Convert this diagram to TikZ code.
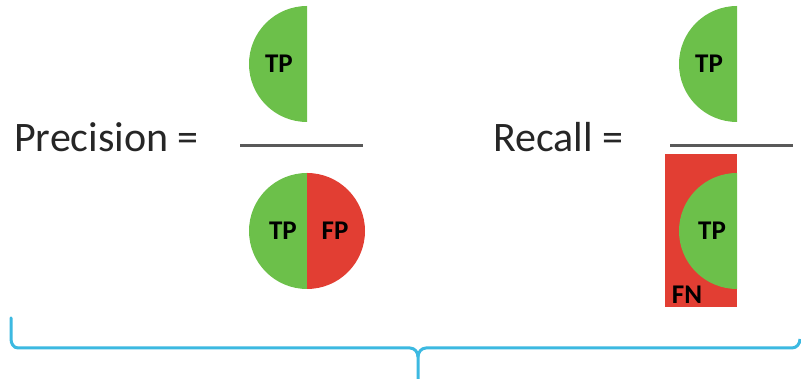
\documentclass[tikz,border=0pt]{standalone}
\usepackage{fontspec}
\setmainfont{Carlito}
\definecolor{tpgreen}{RGB}{108,192,74}
\definecolor{fpred}{RGB}{226,62,51}
\definecolor{bracecol}{RGB}{60,185,225}
\definecolor{bargray}{RGB}{89,89,89}
\tikzset{
  word/.style = {text = black!85, font = \fontsize{42}{50}\selectfont, inner sep = 0pt},
  lbl/.style = {font = \fontsize{27}{32}\selectfont\bfseries, inner sep = 0pt}
}
\begin{document}
\begin{tikzpicture}[x = 1pt, y = 1pt]
\useasboundingbox (0,0) rectangle (801,379);
\node[word, anchor = base west] (prec) at (14,227) {Precision =};
\node[word, anchor = base west] (rec) at (493,227) {Recall =};
% precision fraction
\fill[tpgreen] (307,373) arc[start angle = 90, end angle = 270, radius = 58] -- cycle;
\draw[bargray, line width = 3] (240,233) -- (363,233);
\fill[tpgreen] (307,206) arc[start angle = 90, end angle = 270, radius = 58] -- cycle;
\fill[fpred] (307,206) arc[start angle = 90, end angle = -90, radius = 58] -- cycle;
\node[lbl] (tp1) at (279,315) {TP};
\node[lbl] (tp2) at (283,148) {TP};
\node[lbl] (fp) at (335,148) {FP};
% recall fraction
\begin{scope} [shift = {(430,0)}]
\fill[tpgreen] (307,373) arc[start angle = 90, end angle = 270, radius = 58] -- cycle;
\draw[bargray, line width = 3] (240,233) -- (363,233);
\fill[fpred] (235,72) rectangle (307,225);
\fill[tpgreen] (307,206) arc[start angle = 90, end angle = 270, radius = 58] -- cycle;
\node[lbl] (tp3) at (279,315) {TP};
\node[lbl] (tp4) at (282,148) {TP};
\node[lbl] (fn) at (257,84) {FN};
\end{scope}
% brace
\draw[bracecol, line width = 3, line cap = round]
  (11,61) -- (11,40) to[out = -90, in = 180] (18,31) -- (410,31)
  to[out = 0, in = 90] (418,22) -- (418,-2);
\draw[bracecol, line width = 3]
  (418,22) to[out = 90, in = 180] (426,31) -- (792,31) to[out = 0, in = -90] (800,40);
\end{tikzpicture}
\end{document}
